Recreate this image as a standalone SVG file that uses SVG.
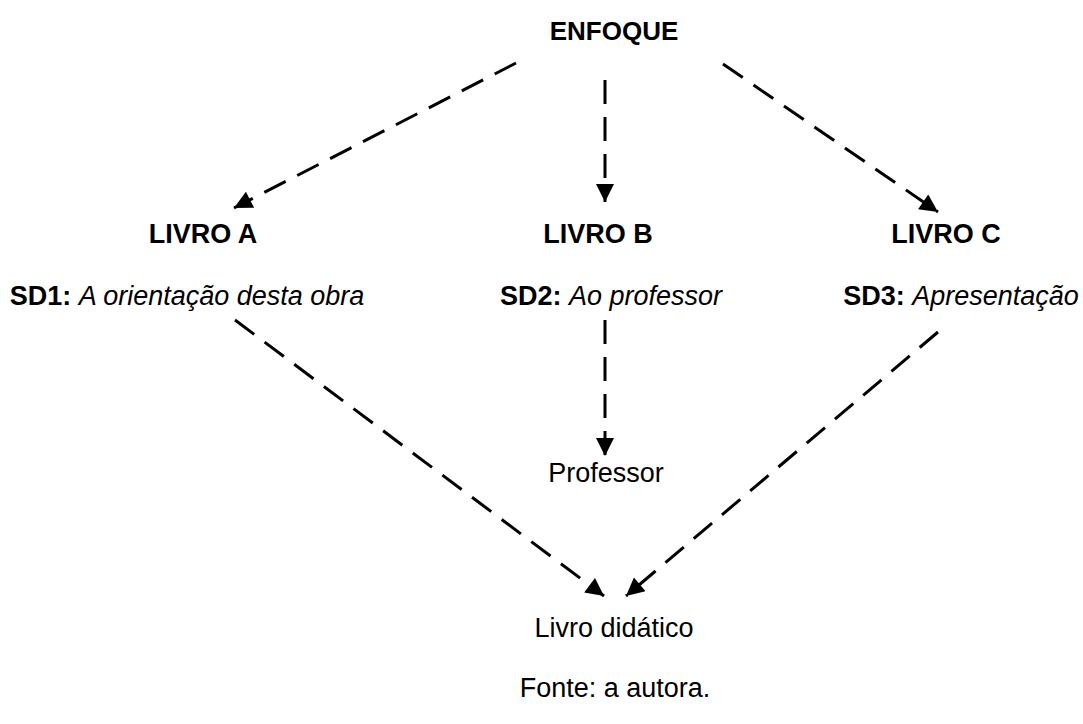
<svg xmlns="http://www.w3.org/2000/svg" width="1083" height="724" viewBox="0 0 1083 724">
<style>
text{font-family:"Liberation Sans",Arial,sans-serif;font-size:27px;fill:#000}
.b{font-weight:bold}
.i{font-style:italic}
.c{stroke:#000;stroke-width:3;stroke-dasharray:24 13;fill:none}
</style>
<defs>
<marker id="ah" viewBox="0 0 10 10" refX="10" refY="5" markerWidth="6.5" markerHeight="6" orient="auto" markerUnits="strokeWidth">
<path d="M0,0 L10,5 L0,10 z" fill="#000"/>
</marker>
</defs>
<rect width="1083" height="724" fill="#fff"/>
<g id="connectors">
<line class="c" x1="516" y1="63" x2="234" y2="208" marker-end="url(#ah)"/>
<line class="c" x1="605" y1="80" x2="605" y2="202" marker-end="url(#ah)"/>
<line class="c" x1="723" y1="64" x2="938" y2="212" marker-end="url(#ah)"/>
<line class="c" x1="235" y1="320" x2="604" y2="596" marker-end="url(#ah)"/>
<line class="c" x1="605" y1="320" x2="605" y2="456" marker-end="url(#ah)"/>
<line class="c" x1="938" y1="332" x2="626" y2="596" marker-end="url(#ah)"/>
</g>
<g id="enfoque"><text class="b" x="614" y="40" text-anchor="middle" style="font-size:26px">ENFOQUE</text></g>
<g id="livroA">
<text class="b" x="203" y="243" text-anchor="middle">LIVRO A</text>
<text x="187" y="305" text-anchor="middle"><tspan class="b">SD1:</tspan> <tspan class="i">A orientação desta obra</tspan></text>
</g>
<g id="livroB">
<text class="b" x="598" y="243" text-anchor="middle">LIVRO B</text>
<text x="611" y="305" text-anchor="middle"><tspan class="b">SD2:</tspan> <tspan class="i">Ao professor</tspan></text>
</g>
<g id="livroC">
<text class="b" x="946" y="243" text-anchor="middle">LIVRO C</text>
<text x="961" y="305" text-anchor="middle"><tspan class="b">SD3:</tspan> <tspan class="i">Apresentação</tspan></text>
</g>
<g id="professor"><text x="606" y="482" text-anchor="middle">Professor</text></g>
<g id="livroDidatico"><text x="614" y="637" text-anchor="middle">Livro didático</text></g>
<text x="615" y="697" text-anchor="middle">Fonte: a autora.</text>
</svg>
